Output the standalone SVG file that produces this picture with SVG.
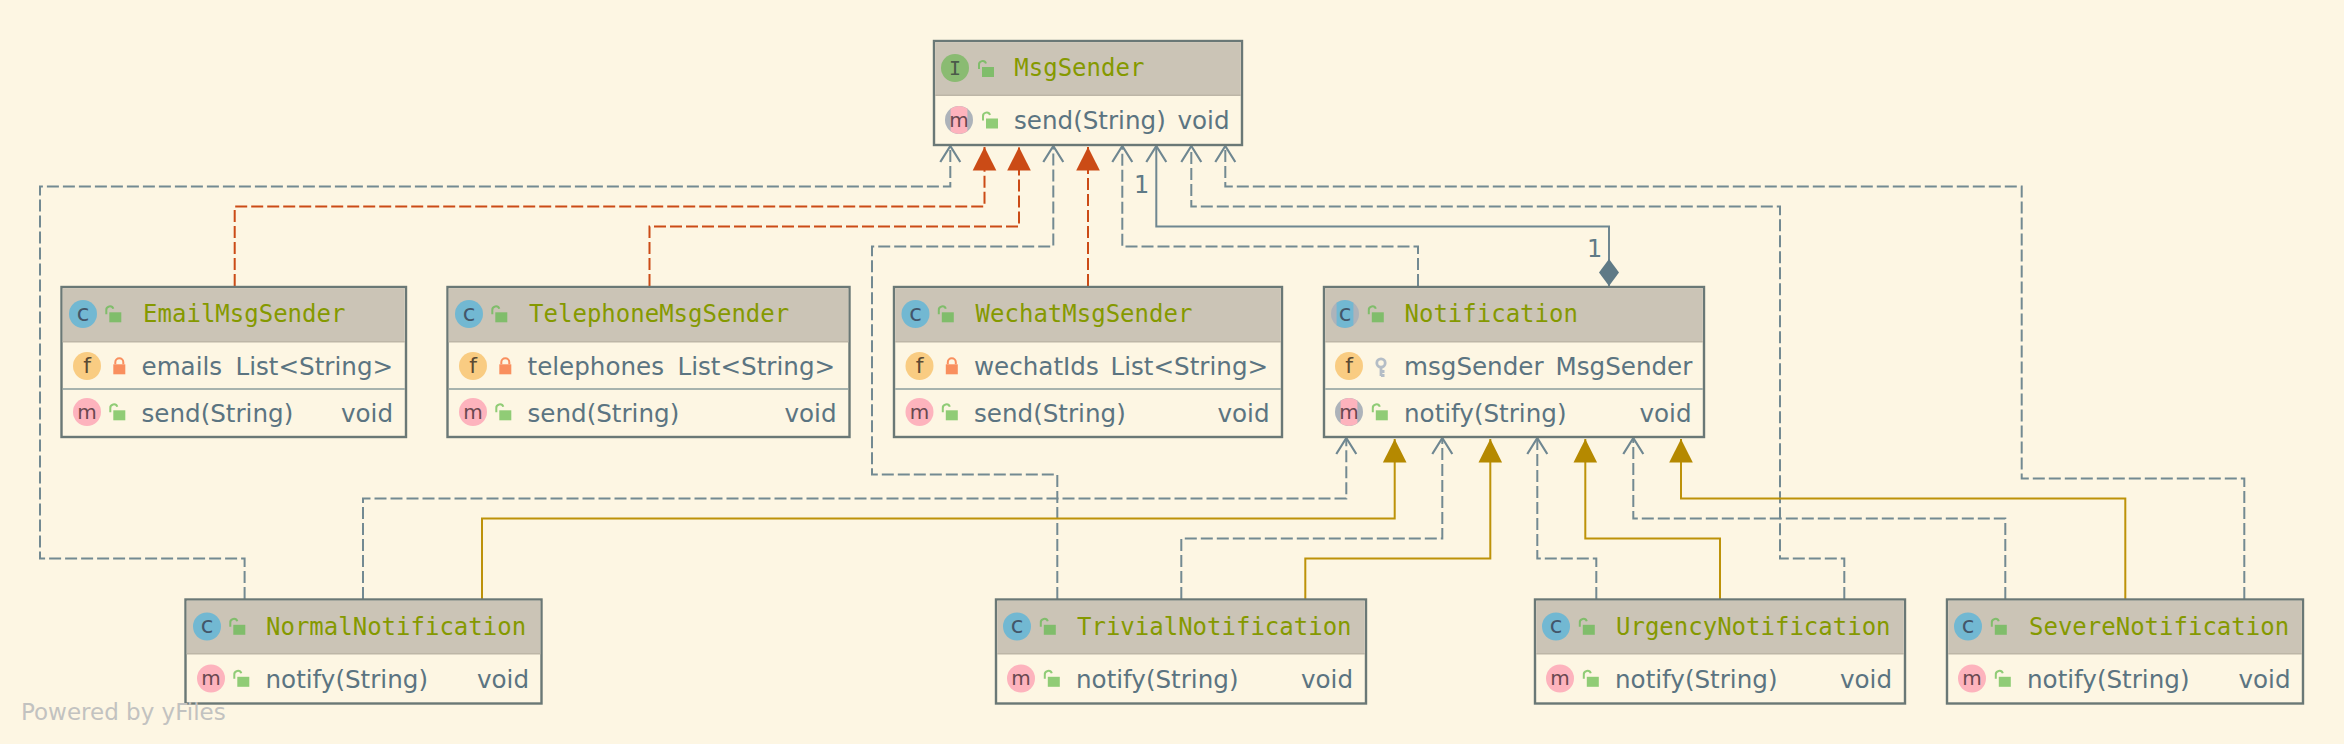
<svg xmlns="http://www.w3.org/2000/svg" width="2344" height="744" viewBox="0 0 2344 744">
<style>
.box{fill:#fdf6e3;stroke:#6a7876;stroke-width:2.4}
.hdr{fill:#cbc4b6}
.hl{stroke:#bdb6a7;stroke-width:1.5;fill:none}
.sep{stroke:#8a9d9c;stroke-width:1.6;fill:none}
.t{font-family:"DejaVu Sans Mono",monospace;font-size:24px;fill:#859900}
.m{font-family:"DejaVu Sans",sans-serif;font-size:24.6px;fill:#5b7481}
.l{font-family:"DejaVu Sans",sans-serif;font-size:20px;text-anchor:middle}
.li{font-family:"DejaVu Sans Mono",monospace;font-size:20px;text-anchor:middle;fill:#4b5a4a}
.cc{fill:#72b8d2}.cf{fill:#f9cc82}.cm{fill:#fdb3bd}.ci{fill:#8abb72}.cg{fill:#adb3ba}
.lc{fill:#43566a;font-size:23px}.lf{fill:#5c4a33;font-size:22px}.lm{fill:#6a4850}
.oh{color:#80bd6b}.om{color:#90cc76}.pv{color:#f98f5e}
.e{fill:none;stroke-width:2}
.dash{stroke:#738a92;stroke-dasharray:12 4}
.sol{stroke:#6f8791}
.or{stroke:#cb4b16;stroke-dasharray:12 4}
.go{stroke:#bd9209}
.n1{font-family:"DejaVu Sans",sans-serif;font-size:24px;fill:#5f7a86}
.pw{font-family:"DejaVu Sans",sans-serif;font-size:23px;fill:#c2c2c0}
</style>
<defs>
<marker id="open" markerUnits="userSpaceOnUse" markerWidth="24" markerHeight="30" viewBox="-20 -13 24 26" refX="0" refY="0" orient="auto"><path d="M-16,-10 L0,0 L-16,10" fill="none" stroke="#6f8791" stroke-width="2.2"/></marker>
<marker id="triO" markerUnits="userSpaceOnUse" markerWidth="28" markerHeight="30" viewBox="-25 -13 28 26" refX="0" refY="0" orient="auto"><polygon points="0,0 -23.5,-11.8 -23.5,11.8" fill="#cb4b16"/></marker>
<marker id="triG" markerUnits="userSpaceOnUse" markerWidth="28" markerHeight="30" viewBox="-25 -13 28 26" refX="0" refY="0" orient="auto"><polygon points="0,0 -23.5,-11.8 -23.5,11.8" fill="#b58900"/></marker>
<marker id="dia" markerUnits="userSpaceOnUse" markerWidth="30" markerHeight="24" viewBox="-1 -12 30 24" refX="0" refY="0" orient="auto"><polygon points="0,0 13.5,-10 27,0 13.5,10" fill="#5f7a86"/></marker>
<path id="band" d="M-8.4,-11.2 A14,14 0 0 1 8.4,-11.2 V11.2 A14,14 0 0 1 -8.4,11.2 Z"/>
<g id="lo"><rect x="0" y="0" width="12" height="10" fill="currentColor"/><path d="M-3,2 V-2 A3.6,3.6 0 0 1 4,-3.5" fill="none" stroke="currentColor" stroke-width="2"/></g>
<g id="lc"><rect x="0" y="0" width="12" height="10" fill="currentColor"/><path d="M2,0 V-2 A4,4 0 0 1 10,-2 V0" fill="none" stroke="currentColor" stroke-width="2"/></g>
<g id="key" fill="none" stroke="#b4bdc6" stroke-width="2.8"><circle cx="0" cy="-4" r="4.2"/><path d="M0,0 V9 M0,4.5 H3.5 M0,8.5 H3.5"/></g>
</defs>
<rect width="2344" height="744" fill="#fdf6e3"/>

<g id="connectors">
<path class="e dash" marker-end="url(#open)" d="M244.6,599 V558.5 H40 V186.5 H950.3 V146"/>
<path class="e or" marker-end="url(#triO)" d="M234.7,286 V206.5 H984.5 V147"/>
<path class="e or" marker-end="url(#triO)" d="M649.5,286 V226.5 H1019 V147"/>
<path class="e dash" marker-end="url(#open)" d="M1057.3,599 V474.5 H872 V246.5 H1053.3 V146"/>
<path class="e or" marker-end="url(#triO)" d="M1088,286 V147"/>
<path class="e dash" marker-end="url(#open)" d="M1418,286 V246.5 H1122.3 V146"/>
<path class="e sol" marker-start="url(#dia)" marker-end="url(#open)" d="M1609,286 V226.5 H1156.3 V146"/>
<path class="e dash" marker-end="url(#open)" d="M1844.3,599 V558.5 H1780 V206.5 H1191.3 V146"/>
<path class="e dash" marker-end="url(#open)" d="M2244.3,599 V478.5 H2021.7 V186.5 H1225.3 V146"/>
<path class="e dash" marker-end="url(#open)" d="M363,599 V498.5 H1346.3 V438"/>
<path class="e go" marker-end="url(#triG)" d="M482,599 V518.5 H1394.7 V439"/>
<path class="e dash" marker-end="url(#open)" d="M1181.3,599 V538.5 H1442.3 V438"/>
<path class="e go" marker-end="url(#triG)" d="M1305.3,599 V558.5 H1490.3 V439"/>
<path class="e dash" marker-end="url(#open)" d="M1596.3,599 V558.5 H1537.3 V438"/>
<path class="e go" marker-end="url(#triG)" d="M1720,599 V538.5 H1585.3 V439"/>
<path class="e dash" marker-end="url(#open)" d="M2005.3,599 V518.5 H1633.3 V438"/>
<path class="e go" marker-end="url(#triG)" d="M2125.3,599 V498.5 H1681 V439"/>
<text class="n1" x="1134" y="192.7">1</text>
<text class="n1" x="1587" y="256.7">1</text>
</g>

<g id="MsgSender" transform="translate(934,41)">
<rect class="box" width="308" height="104"/>
<rect class="hdr" x="1.2" y="1.2" width="305.6" height="53"/><path class="hl" d="M1.2,54.2 H306.8"/>
<circle class="ci" cx="21" cy="27" r="14"/><text class="li" x="21" y="33.5">I</text>
<use href="#lo" class="oh" x="48" y="26"/>
<text class="t" x="80.3" y="34.5">MsgSender</text>
<g transform="translate(25,79)"><circle class="cg" r="14"/><use href="#band" class="cm"/><text class="l lm" y="6.5">m</text></g>
<use href="#lo" class="om" x="52" y="77.5"/>
<text class="m" x="80" y="88">send(String)</text>
<text class="m" x="295.5" y="88" text-anchor="end">void</text>
</g>

<g id="EmailMsgSender" transform="translate(61.5,287)">
<rect class="box" width="344.5" height="150"/>
<rect class="hdr" x="1.2" y="1.2" width="342" height="53.5"/><path class="hl" d="M1.2,54.7 H343.3"/>
<circle class="cc" cx="21.5" cy="27" r="14"/><text class="l lc" x="21.5" y="33.5">c</text>
<use href="#lo" class="oh" x="47.8" y="25.3"/>
<text class="t" x="81.6" y="35">EmailMsgSender</text>
<circle class="cf" cx="25.5" cy="79" r="14"/><text class="l lf" x="25.5" y="86">f</text>
<use href="#lc" class="pv" x="51.8" y="77.3"/>
<text class="m" x="80" y="88">emails</text><text class="m" x="174" y="88">List&lt;String&gt;</text>
<path class="sep" d="M1.2,102 H343.3"/>
<circle class="cm" cx="25.5" cy="125" r="14"/><text class="l lm" x="25.5" y="131.5">m</text>
<use href="#lo" class="om" x="51.8" y="123.3"/>
<text class="m" x="80" y="134.7">send(String)</text>
<text class="m" x="331.5" y="134.7" text-anchor="end">void</text>
</g>

<g id="TelephoneMsgSender" transform="translate(447.5,287)">
<rect class="box" width="402" height="150"/>
<rect class="hdr" x="1.2" y="1.2" width="399.6" height="53.5"/><path class="hl" d="M1.2,54.7 H400.8"/>
<circle class="cc" cx="21.5" cy="27" r="14"/><text class="l lc" x="21.5" y="33.5">c</text>
<use href="#lo" class="oh" x="47.8" y="25.3"/>
<text class="t" x="81.6" y="35">TelephoneMsgSender</text>
<circle class="cf" cx="25.5" cy="79" r="14"/><text class="l lf" x="25.5" y="86">f</text>
<use href="#lc" class="pv" x="51.8" y="77.3"/>
<text class="m" x="80" y="88">telephones</text><text class="m" x="230" y="88">List&lt;String&gt;</text>
<path class="sep" d="M1.2,102 H400.8"/>
<circle class="cm" cx="25.5" cy="125" r="14"/><text class="l lm" x="25.5" y="131.5">m</text>
<use href="#lo" class="om" x="51.8" y="123.3"/>
<text class="m" x="80" y="134.7">send(String)</text>
<text class="m" x="389" y="134.7" text-anchor="end">void</text>
</g>

<g id="WechatMsgSender" transform="translate(894,287)">
<rect class="box" width="388" height="150"/>
<rect class="hdr" x="1.2" y="1.2" width="385.6" height="53.5"/><path class="hl" d="M1.2,54.7 H386.8"/>
<circle class="cc" cx="21.5" cy="27" r="14"/><text class="l lc" x="21.5" y="33.5">c</text>
<use href="#lo" class="oh" x="47.8" y="25.3"/>
<text class="t" x="81.6" y="35">WechatMsgSender</text>
<circle class="cf" cx="25.5" cy="79" r="14"/><text class="l lf" x="25.5" y="86">f</text>
<use href="#lc" class="pv" x="51.8" y="77.3"/>
<text class="m" x="80" y="88">wechatIds</text><text class="m" x="216.5" y="88">List&lt;String&gt;</text>
<path class="sep" d="M1.2,102 H386.8"/>
<circle class="cm" cx="25.5" cy="125" r="14"/><text class="l lm" x="25.5" y="131.5">m</text>
<use href="#lo" class="om" x="51.8" y="123.3"/>
<text class="m" x="80" y="134.7">send(String)</text>
<text class="m" x="375.5" y="134.7" text-anchor="end">void</text>
</g>

<g id="Notification" transform="translate(1324,287)">
<rect class="box" width="380" height="150"/>
<rect class="hdr" x="1.2" y="1.2" width="377.6" height="53.5"/><path class="hl" d="M1.2,54.7 H378.8"/>
<g transform="translate(21,27)"><circle class="cg" r="14"/><use href="#band" class="cc"/><text class="l lc" y="6.5">c</text></g>
<use href="#lo" class="oh" x="47.8" y="25.3"/>
<text class="t" x="80.5" y="35">Notification</text>
<circle class="cf" cx="25" cy="79" r="14"/><text class="l lf" x="25" y="86">f</text>
<use href="#key" x="57" y="80"/>
<text class="m" x="80" y="88">msgSender</text><text class="m" x="231.5" y="88">MsgSender</text>
<path class="sep" d="M1.2,102 H378.8"/>
<g transform="translate(25,125)"><circle class="cg" r="14"/><use href="#band" class="cm"/><text class="l lm" y="6.5">m</text></g>
<use href="#lo" class="om" x="51.8" y="123.3"/>
<text class="m" x="80" y="134.7">notify(String)</text>
<text class="m" x="367.5" y="134.7" text-anchor="end">void</text>
</g>

<g id="NormalNotification" transform="translate(185.5,599.5)">
<rect class="box" width="356" height="104"/>
<rect class="hdr" x="1.2" y="1.2" width="353.6" height="53"/><path class="hl" d="M1.2,54.2 H354.8"/>
<circle class="cc" cx="21.5" cy="27" r="14"/><text class="l lc" x="21.5" y="33.5">c</text>
<use href="#lo" class="oh" x="47.8" y="25.3"/>
<text class="t" x="80.5" y="35">NormalNotification</text>
<circle class="cm" cx="25.5" cy="79" r="14"/><text class="l lm" x="25.5" y="85.5">m</text>
<use href="#lo" class="om" x="51.8" y="77.3"/>
<text class="m" x="80" y="88">notify(String)</text>
<text class="m" x="343.5" y="88" text-anchor="end">void</text>
</g>

<g id="TrivialNotification" transform="translate(996,599.5)">
<rect class="box" width="370" height="104"/>
<rect class="hdr" x="1.2" y="1.2" width="367.6" height="53"/><path class="hl" d="M1.2,54.2 H368.8"/>
<circle class="cc" cx="21" cy="27" r="14"/><text class="l lc" x="21" y="33.5">c</text>
<use href="#lo" class="oh" x="47.8" y="25.3"/>
<text class="t" x="81" y="35">TrivialNotification</text>
<circle class="cm" cx="25" cy="79" r="14"/><text class="l lm" x="25" y="85.5">m</text>
<use href="#lo" class="om" x="51.8" y="77.3"/>
<text class="m" x="80" y="88">notify(String)</text>
<text class="m" x="357" y="88" text-anchor="end">void</text>
</g>

<g id="UrgencyNotification" transform="translate(1535,599.5)">
<rect class="box" width="370" height="104"/>
<rect class="hdr" x="1.2" y="1.2" width="367.6" height="53"/><path class="hl" d="M1.2,54.2 H368.8"/>
<circle class="cc" cx="21" cy="27" r="14"/><text class="l lc" x="21" y="33.5">c</text>
<use href="#lo" class="oh" x="47.8" y="25.3"/>
<text class="t" x="81" y="35">UrgencyNotification</text>
<circle class="cm" cx="25" cy="79" r="14"/><text class="l lm" x="25" y="85.5">m</text>
<use href="#lo" class="om" x="51.8" y="77.3"/>
<text class="m" x="80" y="88">notify(String)</text>
<text class="m" x="357" y="88" text-anchor="end">void</text>
</g>

<g id="SevereNotification" transform="translate(1947,599.5)">
<rect class="box" width="356" height="104"/>
<rect class="hdr" x="1.2" y="1.2" width="353.6" height="53"/><path class="hl" d="M1.2,54.2 H354.8"/>
<circle class="cc" cx="21" cy="27" r="14"/><text class="l lc" x="21" y="33.5">c</text>
<use href="#lo" class="oh" x="47.8" y="25.3"/>
<text class="t" x="82" y="35">SevereNotification</text>
<circle class="cm" cx="25" cy="79" r="14"/><text class="l lm" x="25" y="85.5">m</text>
<use href="#lo" class="om" x="51.8" y="77.3"/>
<text class="m" x="80" y="88">notify(String)</text>
<text class="m" x="343.5" y="88" text-anchor="end">void</text>
</g>

<text class="pw" x="21" y="719.5">Powered by yFiles</text>
</svg>
